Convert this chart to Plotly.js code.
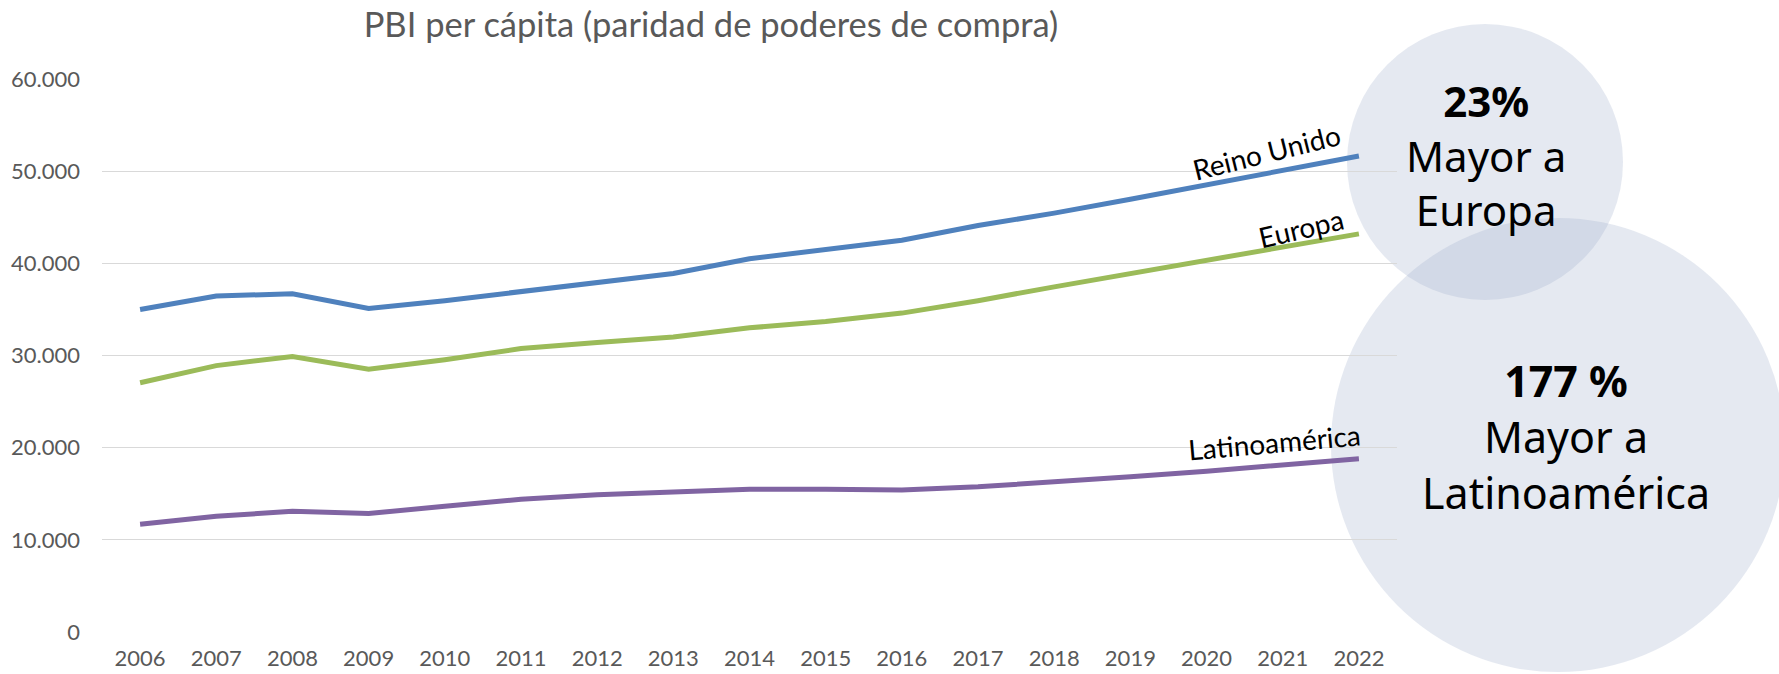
<!DOCTYPE html>
<html>
<head>
<meta charset="utf-8">
<script src="https://cdn.plot.ly/plotly-3.0.1.min.js"></script>
<style>html,body{margin:0;padding:0;background:#fff;}#chart{width:1779px;height:674px;}</style>
</head>
<body>
<div id="chart"></div>
<script>
const years = ['2006','2007','2008','2009','2010','2011','2012','2013','2014','2015','2016','2017','2018','2019','2020','2021','2022'];
const reinoUnido = [35000,36450,36700,35100,35950,36950,37900,38900,40500,41500,42500,44100,45450,46950,48500,50100,51650];
const europa = [27050,28900,29900,28500,29550,30750,31400,32000,33000,33700,34600,35950,37450,38900,40400,41750,43200];
const latinoamerica = [11700,12550,13100,12850,13650,14400,14900,15250,15500,15500,15400,15750,16250,16850,17450,18100,18800];
const seriesNames = ['Reino Unido','Europa','Latinoamérica'];
const yTicks = [0,10000,20000,30000,40000,50000,60000];
const titleText = 'PBI per cápita (paridad de poderes de compra)';
const calloutEuropa = ['23%','Mayor a','Europa'];
const calloutLatam = ['177 %','Mayor a','Latinoamérica'];

const colors = ['#4f81bd','#9bbb59','#8064a2'];
const allSeries = [reinoUnido, europa, latinoamerica];

const traces = allSeries.map((vals,i)=>({
  type:'scatter', mode:'lines', x:years, y:vals, name:seriesNames[i],
  line:{color:colors[i], width:5}, hoverinfo:'skip'
}));

// pixel -> paper helpers for decorative positions
const L=102, R=1397, T=79, B=632;
const px = v => (v-L)/(R-L);
const py = v => (B-v)/(B-T);

const labelFont = {family:'Lato, "Open Sans", sans-serif', size:28, color:'#000'};
const circFont = {family:'"Noto Sans", sans-serif', size:42, color:'#000'};
const callout = arr => '<b>'+arr[0]+'</b><br>'+arr[1]+'<br>'+arr[2];

const annotations = [
  {text:seriesNames[0], x:px(1266), y:py(152), textangle:-14, font:labelFont},
  {text:seriesNames[1], x:px(1301), y:py(228), textangle:-13, font:labelFont},
  {text:seriesNames[2], x:px(1274), y:py(442), textangle:-5, font:labelFont},
  {text:callout(calloutEuropa), x:px(1486), y:py(155), font:circFont},
  {text:callout(calloutLatam), x:px(1566), y:py(437), font:Object.assign({}, circFont, {size:43})}
].map(a=>Object.assign({xref:'paper', yref:'paper', showarrow:false, xanchor:'center', yanchor:'middle', align:'center'}, a));

const circleFill = 'rgba(159,174,203,0.27)';
const shapes = [
  {type:'circle', xref:'paper', yref:'paper', x0:px(1347), x1:px(1623), y0:py(300), y1:py(24), fillcolor:circleFill, line:{width:0}, layer:'below'},
  {type:'circle', xref:'paper', yref:'paper', x0:px(1331), x1:px(1785), y0:py(672), y1:py(218), fillcolor:circleFill, line:{width:0}, layer:'below'}
];

const layout = {
  width:1779, height:674,
  margin:{l:L, r:1779-R, t:T, b:674-B, pad:0},
  paper_bgcolor:'#fff', plot_bgcolor:'rgba(0,0,0,0)',
  separators:',.',
  showlegend:false,
  title:{text:titleText, xref:'container', yref:'container', x:711/1779, y:1-25/674, xanchor:'center', yanchor:'middle',
         font:{family:'Lato, "Open Sans", sans-serif', size:34.5, color:'#595959'}},
  xaxis:{type:'category', range:[-0.5,16.5], showgrid:false, zeroline:false, showline:false, ticks:'',
         tickfont:{family:'Lato, "Open Sans", sans-serif', size:22, color:'#595959'}, ticklabelstandoff:11, fixedrange:true},
  yaxis:{range:[0,60000], tickvals:yTicks, tickformat:',d', showgrid:true, gridcolor:'#d9d9d9', gridwidth:1.3,
         zeroline:false, showline:false, ticks:'',
         tickfont:{family:'Lato, "Open Sans", sans-serif', size:22, color:'#595959'}, ticklabelstandoff:21, fixedrange:true},
  annotations:annotations,
  shapes:shapes
};

Plotly.newPlot('chart', traces, layout, {staticPlot:true, displayModeBar:false});
</script>
</body>
</html>
